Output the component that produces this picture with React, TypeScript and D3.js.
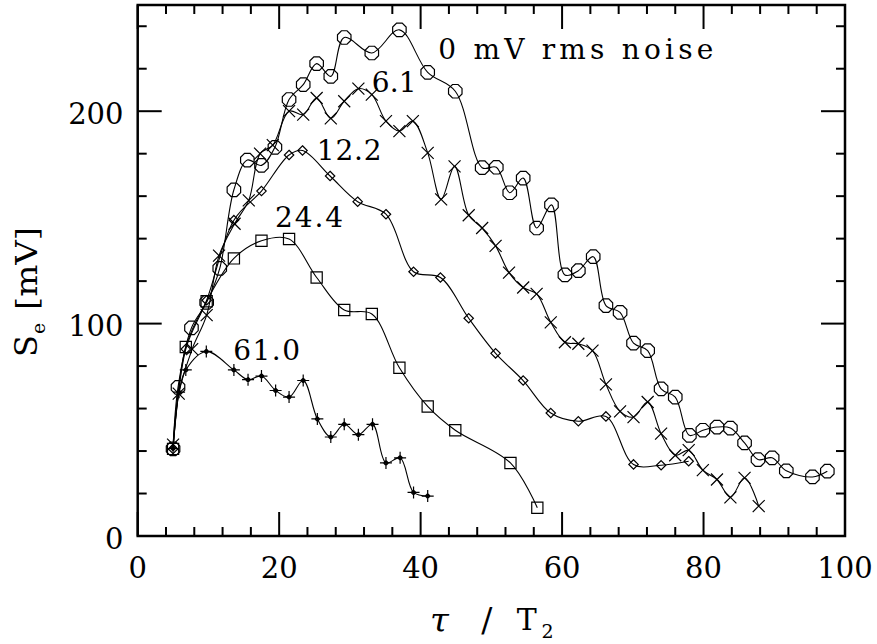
import React from 'react';
import * as d3 from 'd3';

// ---- data ----
const noise0X = [5, 5.7, 7.6, 9.75, 11.6, 13.6, 15.5, 17.5, 19.4, 21.4, 23.4, 25.3, 27.3, 29.2, 33.1, 37.0, 41.0, 44.9, 48.7, 50.7, 52.6, 54.5, 56.4, 58.5, 60.4, 62.3, 64.4, 66.2, 68.2, 70.1, 72.1, 74.0, 76.0, 78.0, 79.9, 81.9, 83.8, 85.8, 87.7, 89.7, 91.7, 95.4, 97.5];
const noise0Y = [41, 70, 98, 110, 126, 163, 177, 174.5, 183, 205.5, 212.5, 222.4, 216.4, 234.7, 227.4, 238.3, 218.3, 209.4, 173.4, 173.6, 161.6, 168.5, 145, 155.9, 122.9, 124.9, 131.5, 108.5, 105.3, 90.8, 87.3, 69.3, 65.4, 47.4, 49.8, 51.3, 50.8, 43.8, 36, 36.8, 30.7, 27.8, 30.5];

const noise6X = [5, 5.8, 7.7, 9.75, 11.5, 13.7, 15.7, 17.3, 19.1, 21.4, 23.4, 25.3, 27.3, 29.2, 31.2, 33.1, 35.1, 37.0, 38.9, 41.0, 42.9, 44.8, 46.8, 48.7, 50.6, 52.5, 54.5, 56.4, 58.4, 60.4, 62.3, 64.3, 66.2, 68.2, 70.1, 72.1, 74.0, 76.0, 77.9, 79.9, 81.9, 83.8, 85.8, 87.8];
const noise6Y = [43, 67, 88, 104, 132, 147, 158, 180, 184, 200, 198.4, 206.2, 196.6, 204.7, 210.6, 207.8, 195.3, 190.6, 195.3, 180.4, 158.5, 174, 151, 145, 136.6, 124, 117, 114, 100.6, 91.2, 90.5, 87.3, 71.4, 58.7, 56, 63.1, 48.2, 38, 40.4, 31, 26.6, 18.2, 27.4, 14.1];

const noise12X = [5, 6.8, 9.75, 13.6, 17.5, 21.4, 23.3, 27.2, 31.1, 35.1, 39.0, 42.8, 46.8, 50.6, 54.5, 58.4, 62.3, 66.2, 70.1, 74.0, 77.9];
const noise12Y = [41, 88, 111, 148.7, 162.4, 179.4, 181.5, 169.5, 157.4, 151.5, 124.4, 121.7, 102.5, 86, 73.2, 57.9, 54, 56.3, 33.7, 33.3, 35.2];

const noise24X = [5, 6.8, 9.75, 13.6, 17.5, 21.4, 25.3, 29.2, 33.1, 37.0, 41.0, 44.9, 52.7, 56.5];
const noise24Y = [41, 89, 110.5, 130.7, 139, 139.8, 121.7, 106.4, 104.5, 79.2, 61, 49.8, 34.4, 13.3];

const noise61X = [5, 5.85, 6.8, 9.7, 13.6, 15.6, 17.5, 19.5, 21.4, 23.4, 25.4, 27.3, 29.2, 31.2, 33.2, 35.1, 37.1, 39.0, 41.0];
const noise61Y = [41.2, 67.7, 78.2, 86.9, 78.2, 73.6, 75.3, 68.5, 65.4, 73.2, 55.1, 46.6, 52.6, 47.7, 52.6, 34.4, 36.8, 20.5, 18.8];

const xMajorTicks = [0, 20, 40, 60, 80, 100];
const yMajorTicks = [0, 100, 200];
const seriesLabels = ['0 mV rms noise', '6.1', '12.2', '24.4', '61.0'];

// ---- layout ----
const W = 877;
const H = 644;
const L = 137.7, R = 845, T = 5, B = 536;
const FONT = "'DejaVu Serif', serif";

const x = d3.scaleLinear().domain([0, 100]).range([L, R]);
const y = d3.scaleLinear().domain([0, 250]).range([B, T]);

const zip = (xs: number[], ys: number[]) => xs.map((v, i) => [v, ys[i]] as [number, number]);

const line = d3.line<[number, number]>()
  .x(d => x(d[0]))
  .y(d => y(d[1]))
  .curve(d3.curveCatmullRom.alpha(0.5));

const octagon = (r: number) => {
  const pts = d3.range(8).map(k => {
    const a = (Math.PI / 8) + k * Math.PI / 4;
    return [r * Math.cos(a), r * Math.sin(a)];
  });
  return 'M' + pts.map(p => p.join(',')).join('L') + 'Z';
};
const cross = (s: number) => `M${-s},${-s}L${s},${s}M${-s},${s}L${s},${-s}`;
const diamond = (s: number) => `M0,${-s}L${s},0L0,${s}L${-s},0Z`;
const square = (s: number) => `M${-s},${-s}L${s},${-s}L${s},${s}L${-s},${s}Z`;
const star = (s: number) =>
  `M0,${-s}L0,${s}M${-s},0L${s},0M0,${-2.4}L2.4,0L0,2.4L-2.4,0Z`;

const series = [
  { pts: zip(noise0X, noise0Y), marker: octagon(7.3) },
  { pts: zip(noise6X, noise6Y), marker: cross(6) },
  { pts: zip(noise12X, noise12Y), marker: diamond(4.7) },
  { pts: zip(noise24X, noise24Y), marker: square(5.6) },
  { pts: zip(noise61X, noise61Y), marker: star(6) },
];

const labelPos = [
  { x: 438.3, y: 59.3, len: 275 },
  { x: 371.7, y: 92, len: 45 },
  { x: 316.7, y: 160, len: 65 },
  { x: 275, y: 226.7, len: 68 },
  { x: 233.3, y: 360, len: 66.7 },
];

export default function App() {
  const xMinor = d3.range(0, 101, 4).filter(v => !xMajorTicks.includes(v));
  const yMinor = d3.range(0, 251, 20).filter(v => !yMajorTicks.includes(v));
  const MAJ = 24, MIN = 9;
  return (
    <div style={{ position: 'absolute', left: 0, top: 0 }}>
      <svg width={W} height={H} viewBox={`0 0 ${W} ${H}`} style={{ display: 'block', background: '#fff' }}>
        <rect x={0} y={0} width={W} height={H} fill="#fff" />
        {/* ticks */}
        <g stroke="#000" strokeWidth={2}>
          {xMajorTicks.map(v => (
            <g key={'xM' + v}>
              <line x1={x(v)} x2={x(v)} y1={B} y2={B - MAJ} />
              <line x1={x(v)} x2={x(v)} y1={T} y2={T + MAJ} />
            </g>
          ))}
          {xMinor.map(v => (
            <g key={'xm' + v}>
              <line x1={x(v)} x2={x(v)} y1={B} y2={B - MIN} />
              <line x1={x(v)} x2={x(v)} y1={T} y2={T + MIN} />
            </g>
          ))}
          {yMajorTicks.map(v => (
            <g key={'yM' + v}>
              <line x1={L} x2={L + MAJ} y1={y(v)} y2={y(v)} />
              <line x1={R} x2={R - MAJ} y1={y(v)} y2={y(v)} />
            </g>
          ))}
          {yMinor.map(v => (
            <g key={'ym' + v}>
              <line x1={L} x2={L + MIN} y1={y(v)} y2={y(v)} />
              <line x1={R} x2={R - MIN} y1={y(v)} y2={y(v)} />
            </g>
          ))}
        </g>
        <rect x={L} y={T} width={R - L} height={B - T} fill="none" stroke="#000" strokeWidth={2.5} />
        {/* tick labels */}
        <g fontFamily={FONT} fontSize={29} fill="#000">
          {xMajorTicks.map(v => (
            <text key={'xl' + v} x={x(v)} y={577.7} textAnchor="middle">{v}</text>
          ))}
          {yMajorTicks.map(v => (
            <text key={'yl' + v} x={123.5} y={y(v) + 12.5} textAnchor="end">{v}</text>
          ))}
        </g>
        {/* series */}
        {series.map((s, i) => (
          <g key={'s' + i}>
            <path d={line(s.pts) || ''} fill="none" stroke="#000" strokeWidth={1.1} />
            {s.pts.map((p, j) => (
              <path key={j} d={s.marker} transform={`translate(${x(p[0])},${y(p[1])})`}
                fill="none" stroke="#000" strokeWidth={1.2} />
            ))}
          </g>
        ))}
        {/* series labels */}
        <g fontFamily={FONT} fontSize={28} fill="#000">
          {seriesLabels.map((t, i) => (
            <text key={'lab' + i} x={labelPos[i].x} y={labelPos[i].y}
              textLength={labelPos[i].len} lengthAdjust="spacing">{t}</text>
          ))}
        </g>
        {/* y axis title */}
        <g transform="rotate(-90)" fontFamily={FONT} fill="#000">
          <text x={-357} y={37} fontSize={32}>S</text>
          <text x={-334} y={45} fontSize={19}>e</text>
          <text x={-310} y={37} fontSize={30} textLength={83} lengthAdjust="spacingAndGlyphs">[mV]</text>
        </g>
        {/* x axis title */}
        <g fontFamily={FONT} fill="#000">
          <text x={430} y={631.7} fontSize={34} fontStyle="italic">τ</text>
          <text x={486.7} y={632} fontSize={33} textAnchor="middle">/</text>
          <text x={516.7} y={630} fontSize={30}>T</text>
          <text x={541.5} y={638} fontSize={19}>2</text>
        </g>
      </svg>
    </div>
  );
}
